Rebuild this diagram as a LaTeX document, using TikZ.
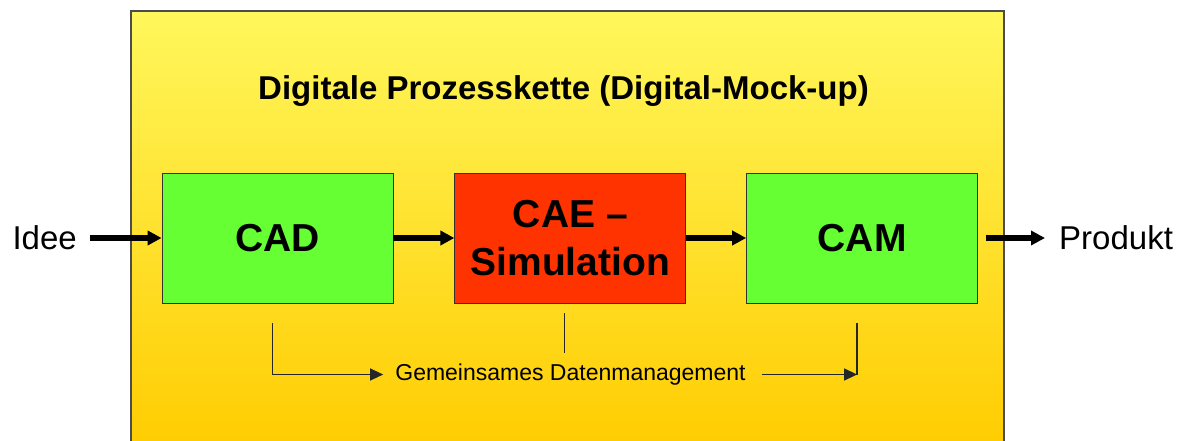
\documentclass[tikz,border=0pt]{standalone}
\usepackage{fontspec}
\setmainfont{Liberation Sans}
\usetikzlibrary{arrows.meta,positioning,calc}
\definecolor{yellowtop}{RGB}{255,247,92}
\definecolor{yellowbot}{RGB}{255,204,0}
\definecolor{stagegreen}{RGB}{102,255,51}
\definecolor{stagered}{RGB}{255,51,0}

\begin{document}
\begin{tikzpicture}[x=1pt,y=1pt,
  stage/.style={draw=black!80,line width=0.8pt,minimum width=231pt,minimum height=130pt,inner sep=0pt,align=center,font=\fontsize{39}{48}\selectfont\bfseries},
  flow/.style={line width=6pt,-{Triangle[length=14pt,width=14pt]}},
  datalink/.style={line width=1.3pt,draw=black!85}]
\useasboundingbox (0,0) rectangle (1180,440);
% background of the process chain
\draw[draw=black!70,line width=1.2pt,top color=yellowtop,bottom color=yellowbot] (131,-10) rectangle (1004,429);

\node (title)[anchor=base,font=\fontsize{33}{38}\selectfont\bfseries] at (563.5,340) {Digitale Prozesskette (Digital-Mock-up)};

\node (cad)[stage,fill=stagegreen] at (277.5,202) {CAD};
\node (cae)[stage,fill=stagered,right=61pt of cad] {CAE –\\Simulation};
\node (cam)[stage,fill=stagegreen,right=60pt of cae] {CAM};

\node (idee)[anchor=east,inner sep=0pt,font=\fontsize{33}{40}\selectfont] at (77,202) {Idee};
\node (produkt)[anchor=west,inner sep=0pt,font=\fontsize{33}{40}\selectfont] at (1059,202) {Produkt};

\draw [flow] ([xshift=13pt]idee.east) -- (cad);
\draw [flow] (cad) -- (cae);
\draw [flow] (cae) -- (cam);
\draw [flow] ([xshift=8pt]cam.east) -- ([xshift=-14pt]produkt.west);

% shared data management
\node (dm)[inner sep=0pt,font=\fontsize{23}{28}\selectfont] at (570.5,65.5) {Gemeinsames Datenmanagement};
\coordinate (cadlink) at ([xshift=-5pt,yshift=-20pt]cad.south);
\coordinate (caelink) at ([xshift=-6pt,yshift=-10pt]cae.south);
\coordinate (caeend) at ([xshift=-6pt,yshift=-50pt]cae.south);
\coordinate (camlink) at ([xshift=-5pt,yshift=-20pt]cam.south);

\draw [datalink,-{Triangle[length=13pt,width=12pt]}] (cadlink) |- ([xshift=-12pt]dm.west);
\draw [datalink] (caelink) -- (caeend);
\draw [datalink,-{Triangle[length=13pt,width=12pt]}] ([xshift=16pt]dm.east) -- (dm.east -| camlink);
\draw [datalink] (camlink) -- (dm.east -| camlink);
\end{tikzpicture}
\end{document}
